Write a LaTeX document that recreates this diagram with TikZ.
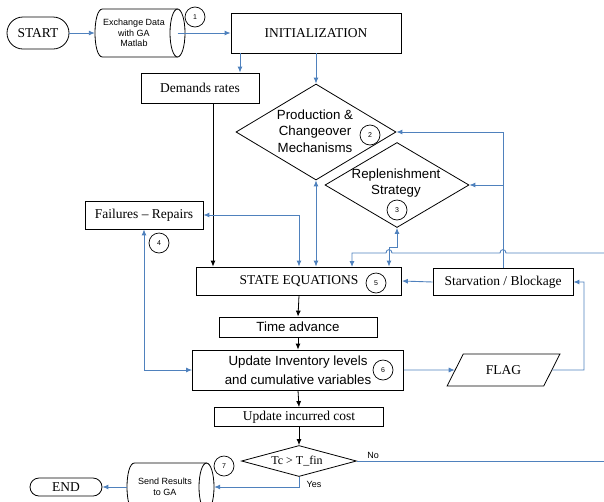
\documentclass[tikz,border=0pt]{standalone}
\usepackage{fontspec}
\setmainfont{Liberation Serif}
\newfontfamily\arialf{Liberation Sans}
\usetikzlibrary{shapes.geometric,arrows.meta,calc}
\definecolor{lineblue}{RGB}{79,129,189}
\tikzset{
  box/.style={draw=black, line width=0.8pt, rectangle, inner sep=0pt, align=center,
    font=\fontsize{13.5}{16}\selectfont},
  sbox/.style={box, font=\arialf\fontsize{13.3}{19}\selectfont},
  term/.style={draw=black, line width=0.8pt, rectangle, inner sep=0pt,
    font=\fontsize{13.5}{16}\selectfont},
  cylbody/.style={rectangle, inner sep=0pt},
  outl/.style={draw=black, line width=0.8pt},
  ctext/.style={align=center, inner sep=0pt, font=\arialf\fontsize{9}{10.5}\selectfont},
  dia/.style={diamond, draw=black, line width=0.8pt, inner sep=0pt},
  dtext/.style={align=center, inner sep=0pt, font=\arialf\fontsize{13.3}{16.5}\selectfont},
  num/.style={circle, draw=black, line width=0.7pt, fill=white, minimum size=20pt, inner sep=0pt,
    font=\arialf\fontsize{7}{8}\selectfont},
  flagshape/.style={trapezium, trapezium left angle=52, trapezium right angle=128,
    trapezium stretches=true, draw=black, line width=0.8pt, inner sep=0pt,
    font=\fontsize{13.5}{16}\selectfont},
  lbl/.style={inner sep=0pt, font=\arialf\fontsize{9}{10}\selectfont},
  bl/.style={draw=lineblue, line width=0.9pt},
  bla/.style={bl, -{Latex[length=6pt,width=5pt]}},
  blb/.style={bl, {Latex[length=6pt,width=5pt]}-{Latex[length=6pt,width=5pt]}},
  kla/.style={draw=black, line width=0.8pt, -{Latex[length=6pt,width=5pt]}},
}
\begin{document}
\begin{tikzpicture}[x=1pt,y=-1pt]
\useasboundingbox (0,0) rectangle (604,501);
\clip (0,0) rectangle (604,501);

% nodes
\node[term, rounded corners=16pt, minimum width=62pt, minimum height=32pt] (start) at (38,33) {START};
% cylinder: Exchange Data
\node[cylbody, minimum width=90pt, minimum height=48pt] (exch) at (140,33) {};
\draw[outl] (102.5,9) -- (177.5,9) (177.5,57) -- (102.5,57)
  .. controls (92.5,57) and (92.5,9) .. (102.5,9);
\draw[outl] (177.5,33) ellipse [x radius=7.5, y radius=24];
\node[ctext] (exchtxt) at (134,33) {Exchange Data\\with GA\\Matlab};
\node[num] (n1) at (195,17) {1};
\node[box, minimum width=170pt, minimum height=40pt] (init) at (316,33) {INITIALIZATION};
\node[box, minimum width=118pt, minimum height=30pt] (dem) at (200,88) {Demands rates};
\node[dia, minimum width=160pt, minimum height=96pt] (prod) at (316,132) {};
\node[dtext] (prodt) at (315,131) {Production \&\\Changeover\\Mechanisms};
\node[num] (n2) at (370,135) {2};
\node[dia, minimum width=144pt, minimum height=85pt] (repl) at (397,185) {};
\node[dtext] (replt) at (396,183) {Replenishment\\Strategy};
\node[num] (n3) at (397,210) {3};
\node[box, minimum width=118pt, minimum height=28pt] (fail) at (144,215) {Failures -- Repairs};
\node[num] (n4) at (159,243) {4};
\node[box, minimum width=205pt, minimum height=28pt] (state) at (299,281) {STATE EQUATIONS};
\node[num] (n5) at (376,283) {5};
\node[box, minimum width=140pt, minimum height=27pt] (starv) at (503,282) {Starvation / Blockage};
\node[sbox, minimum width=158pt, minimum height=20pt] (time) at (298,327) {Time advance};
\node[sbox, minimum width=211pt, minimum height=40pt] (upd) at (298,370) {Update Inventory levels\\and cumulative variables};
\node[num] (n6) at (383,370) {6};
\node[flagshape, minimum width=113pt, minimum height=32pt] (flag) at (503.5,370) {FLAG};
\node[box, minimum width=169pt, minimum height=19pt] (cost) at (299,417) {Update incurred cost};
\node[dia, minimum width=115pt, minimum height=31pt] (dec) at (299,461) {};
\node[inner sep=0pt, font=\fontsize{12}{14}\selectfont] (dect) at (297,461) {Tc > T\_fin};
\node[num] (n7) at (224,466) {7};
% cylinder: Send Results
\node[cylbody, minimum width=87pt, minimum height=48pt] (send) at (170.5,487) {};
\draw[outl] (134.5,463) -- (206.5,463) (206.5,511) -- (134.5,511)
  .. controls (124.5,511) and (124.5,463) .. (134.5,463);
\draw[outl] (206.5,487) ellipse [x radius=7.5, y radius=24];
\node[ctext] (sendtxt) at (165,487) {Send Results\\to GA};
\node[term, rounded corners=9pt, minimum width=72pt, minimum height=18pt] (end) at (66,487) {END};

% helper points
\coordinate (edgeA) at (604,253);
\coordinate (edgeB) at (604,461);
\coordinate (fr) at (584,370);
\path (dem.south) ++(13,0) coordinate (demout);
\path (dem.north) ++(40,0) coordinate (demin);
\path (state.north) ++(90,0) coordinate (stin);
\path (repl.south) ++(0,20) coordinate (replk);
\path (exch.east) ++(-7.5,0) coordinate (exchout);

% black flow
\draw[kla] (demout) -- (demout |- state.north);
\draw[kla] (state.south) -- (time.north);
\draw[kla] (time.south) -- (upd.north);
\draw[kla] (upd.south) -- (cost.north);
\draw[kla] (cost.south) -- (dec.north);

% blue connectors
\draw[bla] (start.east) -- (exch.west);
\draw[bla] (exchout) -- (init.west);
\draw[bla] (demin |- init.south) -- (demin);
\draw[bla] (init.south) -- (prod.north);
\draw[blb] (fail.east) -| (state.north);
\draw[blb] (prod.south) -- (prod.south |- state.north);
\draw[blb] (repl.south) -- (replk) -| (stin);
\draw[bla] (starv.north) |- (prod.east);
\draw[bla] (starv.north |- repl.east) -- (repl.east);
\draw[bla] (edgeA) -- (506,253) .. controls (506,248.5) and (500,248.5) .. (500,253)
  -- (392,253) .. controls (392,248.5) and (386,248.5) .. (386,253)
  -- (352,253) -- (352,267);
\draw[bla] (starv.west) -- (state.east);
\draw[bla] (flag.east) -- (fr) |- (starv.east);
\draw[bla] (upd.east) -- (flag.west);
\draw[blb] (fail.south) |- (upd.west);
\draw[bla] (dec.south) |- (send.east);
\draw[bla] (send.west) -- (end.east);
\draw[bl] (dec.east) -- (edgeB);

% labels
\node[lbl] (no) at (373,455) {No};
\node[lbl] (yes) at (314,484) {Yes};
\end{tikzpicture}
\end{document}
